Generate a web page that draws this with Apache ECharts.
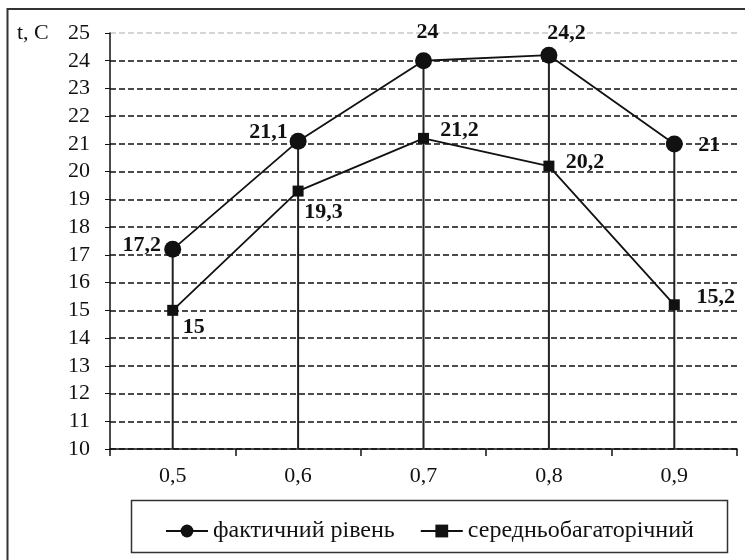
<!DOCTYPE html>
<html><head><meta charset="utf-8">
<script src="https://cdn.jsdelivr.net/npm/echarts@6/dist/echarts.min.js"></script>
<style>html,body{margin:0;padding:0;background:#fff}#c{width:745px;height:560px}</style>
</head><body><div id="c"></div>
<script>
const categories = ['0,5', '0,6', '0,7', '0,8', '0,9'];
const actualName = 'фактичний рівень';
const normName = 'середньобагаторічний';
const actual = [17.2, 21.1, 24, 24.2, 21];
const norm = [15, 19.3, 21.2, 20.2, 15.2];
const yMin = 10, yMax = 25, yStep = 1;
const yTitle = 't, C';

// label placement offsets (style only)
const actualLabelOffsets = [[-31, -4], [-29.5, -9], [4, -28], [17.5, -22], [35, 1]];
const normLabelOffsets = [[21, 17], [25.5, 21], [36, -8], [36, -4], [41.5, -7]];

const FONT = '"Liberation Serif", "Times New Roman", serif';
const fmt = v => String(v).replace('.', ',');

const nLines = (yMax - yMin) / yStep + 1;
const gridColors = [];
for (let i = 0; i < nLines; i++) gridColors.push(i === nLines - 1 ? '#c8c8c8' : '#111');

const labelStyle = { fontFamily: FONT, fontSize: 22, fontWeight: 'bold', color: '#111' };

const chart = echarts.init(document.getElementById('c'), null, { renderer: 'canvas' });
chart.setOption({
  backgroundColor: '#fff',
  animation: false,
  grid: { left: 110, top: 33, right: 8, bottom: 111, containLabel: false },
  xAxis: {
    type: 'category', data: categories, boundaryGap: true,
    axisLine: { lineStyle: { color: '#111', width: 1.5 } },
    axisTick: { show: true, length: 7, lineStyle: { color: '#111', width: 1.5 } },
    axisLabel: { fontFamily: FONT, fontSize: 22, color: '#111', margin: 16 },
    splitLine: { show: false }
  },
  yAxis: {
    type: 'value', min: yMin, max: yMax, interval: yStep,
    axisLine: { show: true, lineStyle: { color: '#111', width: 1.5 } },
    axisTick: { show: true, length: 5, lineStyle: { color: '#111', width: 1 } },
    axisLabel: { fontFamily: FONT, fontSize: 22, color: '#111', margin: 20 },
    splitLine: { show: true, lineStyle: { color: gridColors, width: 1.5, type: [6, 3] } }
  },
  legend: {
    left: 160, top: 514, itemWidth: 42, itemHeight: 16, itemGap: 25,
    data: [actualName, normName],
    textStyle: { fontFamily: FONT, fontSize: 24, color: '#111' }
  },
  graphic: [
    { type: 'rect', shape: { x: 7.5, y: 9, width: 800, height: 600 }, style: { fill: 'none', stroke: '#333', lineWidth: 2 }, z: -1 },
    { type: 'rect', shape: { x: 131.5, y: 500.5, width: 596, height: 52 }, style: { fill: 'none', stroke: '#333', lineWidth: 1.5 } },
    { type: 'text', left: 17, top: 22, style: { text: yTitle, font: '22px ' + FONT, fill: '#111' } }
  ],
  series: [
    {
      type: 'bar', name: 'drop', data: actual, barWidth: 2, silent: true,
      itemStyle: { color: '#222' }, z: 1, legendHoverLink: false
    },
    {
      type: 'line', name: actualName, data: actual.map((v, i) => ({
        value: v, label: { offset: actualLabelOffsets[i] }
      })),
      symbol: 'circle', symbolSize: 17,
      lineStyle: { color: '#111', width: 1.8 }, itemStyle: { color: '#111' },
      label: Object.assign({ show: true, position: 'inside', formatter: p => fmt(p.value) }, labelStyle),
      z: 3
    },
    {
      type: 'line', name: normName, data: norm.map((v, i) => ({
        value: v, label: { offset: normLabelOffsets[i] }
      })),
      symbol: 'rect', symbolSize: 11,
      lineStyle: { color: '#111', width: 1.8 }, itemStyle: { color: '#111' },
      label: Object.assign({ show: true, position: 'inside', formatter: p => fmt(p.value) }, labelStyle),
      z: 3
    }
  ]
});
</script></body></html>
